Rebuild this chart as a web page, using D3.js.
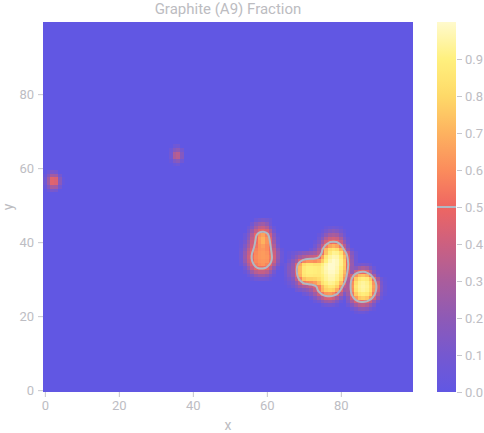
<!DOCTYPE html>
<html>
<head>
<meta charset="utf-8">
<script src="https://cdn.jsdelivr.net/npm/d3@7"></script>
<style>
  body { margin: 0; background: #fff; font-family: Roboto, "Noto Sans", sans-serif; }
  .axis text { fill: #bdbdc3; font-size: 13px; font-family: Roboto, sans-serif; }
  .axis line { stroke: #c6c6cc; }
  .axis path { display: none; }
</style>
</head>
<body>
<div id="chart"></div>
<script>
// grid is 100 x 100, value 0 everywhere except the patches below
var nx = 100, ny = 100;
var xTicks = [0, 20, 40, 60, 80];
var yTicks = [0, 20, 40, 60, 80];
var cbTicks = [0, 0.1, 0.2, 0.3, 0.4, 0.5, 0.6, 0.7, 0.8, 0.9];
var contourLevel = [0.5];

// each row: [y, first x, values...]
var patchWest = [
  [59, 1, .06, .12, .10],
  [58, 0, .04, .16, .28, .26, .10],
  [57, 0, .08, .26, .46, .44, .18, .03],
  [56, 0, .08, .26, .46, .44, .18, .03],
  [55, 0, .04, .16, .28, .26, .10],
  [54, 1, .06, .12, .10]
];
var patchMid = [
  [66, 35, .06, .08],
  [65, 34, .06, .16, .20, .10],
  [64, 34, .08, .30, .34, .16],
  [63, 34, .08, .30, .34, .16],
  [62, 34, .04, .14, .18, .08],
  [61, 35, .04, .06]
];
var patchA = [
  [46, 57, .06, .10, .12, .10, .06],
  [45, 56, .08, .18, .24, .26, .20, .08],
  [44, 55, .05, .14, .28, .36, .38, .32, .16, .05],
  [43, 55, .10, .24, .38, .46, .48, .44, .30, .10],
  [42, 54, .05, .15, .32, .48, .62, .66, .58, .40, .18, .04],
  [41, 54, .06, .18, .36, .50, .65, .70, .62, .45, .22, .06],
  [40, 53, .03, .10, .24, .40, .52, .64, .70, .62, .48, .26, .08],
  [39, 53, .04, .14, .28, .42, .54, .62, .65, .60, .50, .32, .12],
  [38, 53, .06, .18, .34, .46, .57, .62, .63, .60, .52, .38, .18, .04],
  [37, 53, .08, .22, .38, .50, .59, .63, .64, .62, .54, .40, .22, .06],
  [36, 53, .08, .24, .40, .52, .60, .63, .64, .63, .56, .42, .22, .06],
  [35, 53, .07, .22, .38, .50, .59, .62, .63, .62, .54, .40, .20, .05],
  [34, 53, .05, .16, .32, .46, .56, .60, .62, .58, .48, .32, .14, .03],
  [33, 54, .08, .22, .38, .48, .52, .52, .48, .36, .20, .06],
  [32, 54, .04, .12, .25, .34, .38, .38, .34, .24, .10],
  [31, 55, .05, .12, .20, .24, .24, .20, .12, .04],
  [30, 56, .04, .08, .10, .10, .08, .04]
];
var patchB = [
  [44, 76, .04, .06, .08, .06, .04],
  [43, 75, .04, .10, .15, .18, .15, .10, .04],
  [42, 74, .04, .10, .20, .28, .30, .28, .18, .08],
  [41, 74, .08, .18, .32, .40, .42, .40, .30, .14, .04],
  [40, 73, .04, .12, .28, .42, .50, .52, .50, .40, .22, .08],
  [39, 73, .08, .20, .38, .56, .66, .70, .66, .55, .34, .14],
  [38, 72, .06, .14, .28, .50, .72, .82, .85, .82, .70, .46, .22, .06],
  [37, 66, .03, .06, .10, .14, .18, .20, .22, .26, .34, .52, .74, .88, .93, .92, .84, .64, .38, .16, .05],
  [36, 66, .04, .10, .18, .26, .32, .36, .38, .40, .48, .66, .86, .94, .97, .96, .90, .72, .44, .20, .06],
  [35, 66, .08, .18, .28, .44, .58, .62, .62, .60, .64, .76, .90, .97, 1.0, .98, .92, .76, .48, .22, .07],
  [34, 65, .05, .14, .22, .44, .68, .82, .86, .86, .84, .84, .90, .96, 1.0, 1.0, .98, .92, .77, .50, .24, .08],
  [33, 65, .06, .16, .24, .48, .72, .87, .90, .90, .89, .88, .92, .97, 1.0, 1.0, .97, .90, .75, .48, .22, .07],
  [32, 65, .06, .16, .24, .48, .72, .87, .90, .90, .89, .88, .92, .96, .99, .99, .96, .88, .72, .44, .20, .06],
  [31, 65, .05, .14, .22, .45, .70, .85, .88, .88, .87, .87, .90, .94, .97, .97, .93, .85, .67, .38, .16, .04],
  [30, 65, .04, .10, .16, .36, .58, .74, .78, .78, .79, .82, .88, .93, .96, .96, .92, .82, .62, .32, .12, .03],
  [29, 65, .02, .06, .12, .22, .38, .54, .58, .60, .64, .72, .84, .90, .93, .92, .86, .72, .50, .24, .07],
  [28, 66, .03, .08, .15, .24, .30, .34, .38, .44, .56, .72, .82, .87, .86, .78, .60, .36, .14, .04],
  [27, 68, .08, .12, .16, .20, .26, .38, .55, .70, .78, .80, .78, .68, .48, .26, .08],
  [26, 70, .06, .10, .16, .26, .40, .54, .62, .64, .60, .50, .32, .14, .04],
  [25, 72, .06, .14, .24, .34, .42, .44, .40, .30, .16, .05],
  [24, 73, .05, .10, .18, .24, .26, .22, .14, .05],
  [23, 75, .05, .08, .10, .08, .04]
];
var patchC = [
  [34, 84, .06, .10, .12, .10, .05],
  [33, 83, .08, .18, .26, .30, .26, .16, .06],
  [32, 82, .08, .22, .38, .48, .50, .46, .32, .14, .04],
  [31, 81, .06, .18, .42, .62, .72, .74, .70, .55, .30, .10],
  [30, 81, .08, .26, .52, .76, .86, .89, .87, .76, .52, .28, .08, .02],
  [29, 81, .10, .30, .60, .83, .92, .94, .92, .83, .62, .38, .12, .03],
  [28, 81, .10, .30, .62, .86, .93, .95, .93, .85, .65, .42, .14, .04],
  [27, 81, .10, .30, .60, .84, .92, .94, .92, .84, .63, .40, .13, .04],
  [26, 81, .08, .26, .54, .76, .86, .89, .87, .77, .55, .32, .10, .03],
  [25, 81, .05, .18, .42, .64, .75, .78, .75, .63, .42, .22, .06],
  [24, 82, .14, .30, .44, .52, .54, .50, .40, .24, .08],
  [23, 82, .06, .16, .26, .34, .36, .32, .22, .12],
  [22, 83, .06, .12, .18, .20, .17, .10, .04],
  [21, 84, .04, .06, .06, .04]
];

var colorStops = [0, 0.1, 0.2, 0.3, 0.4, 0.5, 0.6, 0.7, 0.8, 0.9, 1.0];
var colorHex = ['#6157e3', '#7558d0', '#8e5ab6', '#aa5d9c', '#cc6080', '#ee6662',
                '#fb8c5c', '#fdb25f', '#fed968', '#fff07e', '#fffacd'];

var values = new Array(nx * ny).fill(0);
[patchWest, patchMid, patchA, patchB, patchC].forEach(function(p) {
  p.forEach(function(row) {
    var j = row[0], i0 = row[1];
    row.slice(2).forEach(function(v, k) {
      var idx = j * nx + i0 + k;
      values[idx] = Math.max(values[idx], v);
    });
  });
});

var w = 484, h = 433;
var svg = d3.select('#chart').append('svg').attr('width', w).attr('height', h);

var x = d3.scaleLinear().domain([-0.5, nx - 0.5]).range([43, 413]);
var y = d3.scaleLinear().domain([-0.5, ny - 0.5]).range([392, 22]);
var color = d3.scaleLinear().domain(colorStops).range(colorHex).clamp(true);

// heatmap cells
var cells = d3.range(nx * ny).map(function(idx) {
  return { i: idx % nx, j: Math.floor(idx / nx), v: values[idx] };
});
svg.append('g')
  .attr('shape-rendering', 'crispEdges')
  .selectAll('rect')
  .data(cells)
  .enter().append('rect')
  .attr('x', function(d) { return x(d.i - 0.5); })
  .attr('y', function(d) { return y(d.j + 0.5); })
  .attr('width', function(d) { return x(d.i + 0.5) - x(d.i - 0.5); })
  .attr('height', function(d) { return y(d.j - 0.5) - y(d.j + 0.5); })
  .attr('fill', function(d) { return color(d.v); });

// 0.5 contour
var contours = d3.contours().size([nx, ny]).thresholds(contourLevel)(values);
var ringLine = d3.line()
  .x(function(p) { return x(p[0] - 0.5); })
  .y(function(p) { return y(p[1] - 0.5); })
  .curve(d3.curveBasisClosed);
contours.forEach(function(c) {
  c.coordinates.forEach(function(poly) {
    poly.forEach(function(ring) {
      svg.append('path')
        .attr('d', ringLine(ring.slice(0, -1)))
        .attr('fill', 'none')
        .attr('stroke', '#b0b9c4')
        .attr('stroke-width', 2);
    });
  });
});

// axes
svg.append('g').attr('class', 'axis')
  .attr('transform', 'translate(0,392)')
  .call(d3.axisBottom(x).tickValues(xTicks).tickSize(5).tickPadding(4));
svg.append('g').attr('class', 'axis')
  .attr('transform', 'translate(43,0)')
  .call(d3.axisLeft(y).tickValues(yTicks).tickSize(5).tickPadding(4));

svg.append('text').attr('x', 228).attr('y', 14)
  .attr('text-anchor', 'middle').attr('fill', '#bcbcc1')
  .style('font-size', '15px').text('Graphite (A9) Fraction');
svg.append('text').attr('x', 228).attr('y', 430)
  .attr('text-anchor', 'middle').attr('fill', '#bcbcc1')
  .style('font-size', '14px').text('x');
svg.append('text').attr('transform', 'translate(13,207) rotate(-90)')
  .attr('text-anchor', 'middle').attr('fill', '#bcbcc1')
  .style('font-size', '14px').text('y');

// colorbar
var cbY = d3.scaleLinear().domain([0, 1]).range([392, 22]);
var grad = svg.append('defs').append('linearGradient')
  .attr('id', 'cbgrad').attr('x1', 0).attr('y1', 1).attr('x2', 0).attr('y2', 0);
grad.selectAll('stop')
  .data(d3.range(0, 1.001, 0.05))
  .enter().append('stop')
  .attr('offset', function(d) { return d; })
  .attr('stop-color', function(d) { return color(d); });
svg.append('rect')
  .attr('x', 437).attr('y', cbY(1))
  .attr('width', 19).attr('height', cbY(0) - cbY(1))
  .attr('fill', 'url(#cbgrad)');
svg.selectAll('line.cblevel')
  .data(contourLevel)
  .enter().append('line')
  .attr('class', 'cblevel')
  .attr('x1', 437).attr('x2', 456)
  .attr('y1', function(d) { return cbY(d); })
  .attr('y2', function(d) { return cbY(d); })
  .attr('stroke', '#b0b9c4').attr('stroke-width', 2);
svg.append('g').attr('class', 'axis')
  .attr('transform', 'translate(457,0)')
  .call(d3.axisRight(cbY).tickValues(cbTicks).tickFormat(d3.format('.1f')).tickSize(5).tickPadding(3));
</script>
</body>
</html>
